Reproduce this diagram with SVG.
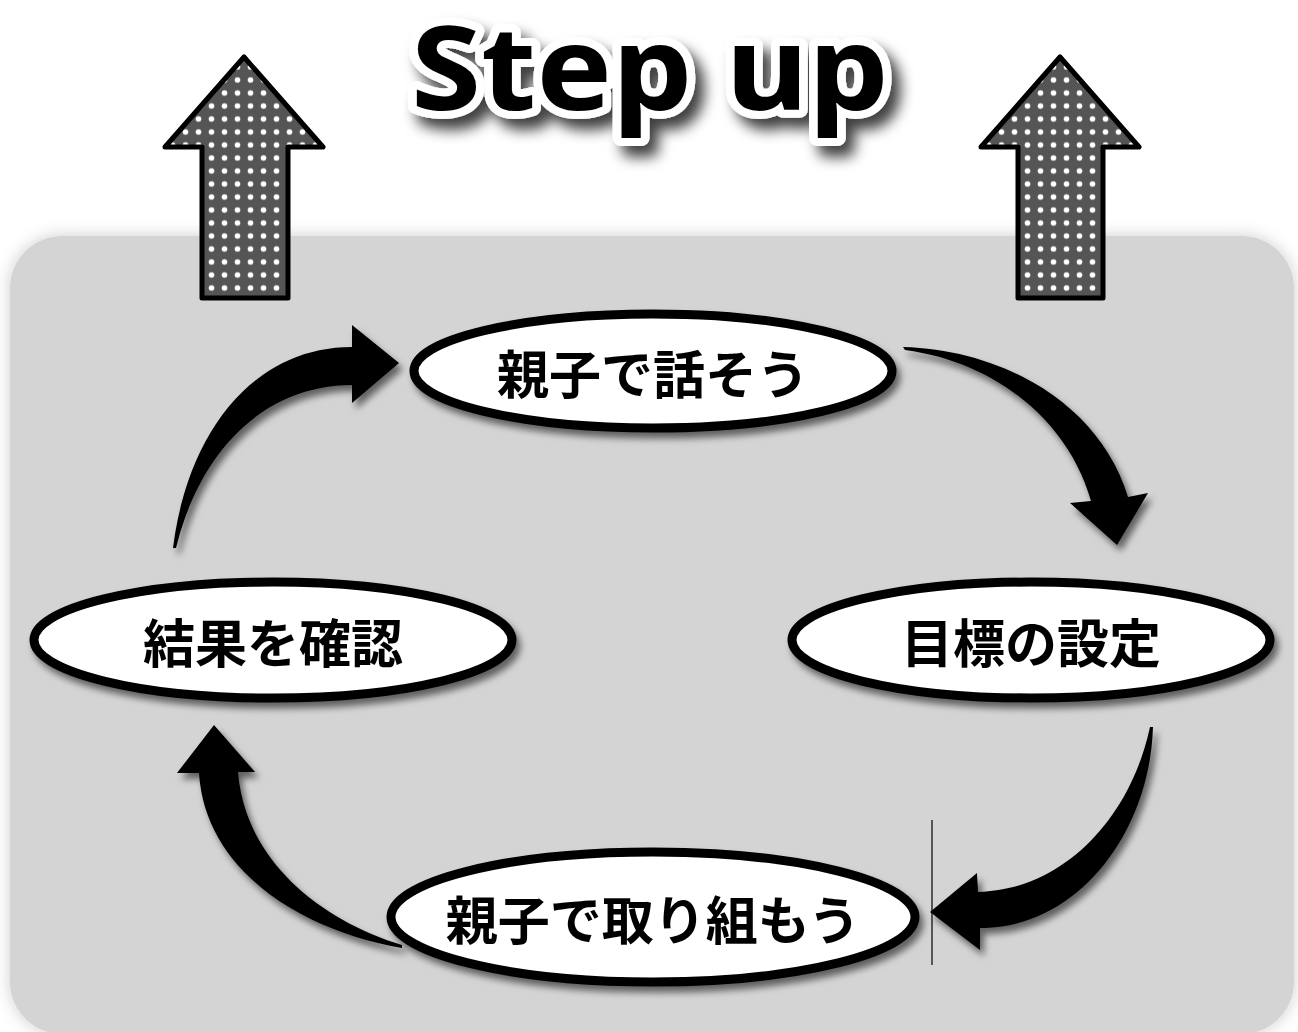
<svg xmlns="http://www.w3.org/2000/svg" width="1298" height="1032" viewBox="0 0 1298 1032">
<defs>
  <style>
    .node ellipse{fill:#fff;stroke:#000;stroke-width:9;filter:url(#sh)}
    .node text{font-family:"Noto Sans CJK JP","Noto Sans",sans-serif;font-weight:700;font-size:52px;fill:#000;text-anchor:middle;dominant-baseline:central}
    .curve{fill:#000;filter:url(#sh)}
    .up{fill:url(#dots);stroke:#000;stroke-width:5;stroke-linejoin:round}
  </style>
  <pattern id="dots" patternUnits="userSpaceOnUse" x="205" y="73.5" width="13" height="13">
    <rect width="13" height="13" fill="#555"/>
    <circle cx="6.5" cy="6.5" r="2.8" fill="#fff"/>
  </pattern>
  <pattern id="dots2" patternUnits="userSpaceOnUse" x="1021" y="73.5" width="13" height="13">
    <rect width="13" height="13" fill="#555"/>
    <circle cx="6.5" cy="6.5" r="2.8" fill="#fff"/>
  </pattern>
  <filter id="sh" x="-20%" y="-20%" width="140%" height="150%">
    <feDropShadow dx="4" dy="6" stdDeviation="3.5" flood-color="#000" flood-opacity="0.55"/>
  </filter>
  <filter id="bgsh" x="-5%" y="-5%" width="110%" height="110%">
    <feDropShadow dx="0" dy="0" stdDeviation="8" flood-color="#000" flood-opacity="0.2"/>
  </filter>
  <filter id="tsh" x="-10%" y="-30%" width="120%" height="170%">
    <feDropShadow dx="9" dy="11" stdDeviation="7" flood-color="#000" flood-opacity="0.75"/>
  </filter>
</defs>
<rect width="1298" height="1032" fill="#fff"/>
<rect id="panel" x="10" y="236" width="1284" height="798" rx="52" fill="#d4d4d4" filter="url(#bgsh)"/>

<g id="title">
  <text x="650" y="110" text-anchor="middle" textLength="478" lengthAdjust="spacingAndGlyphs" font-family="'Noto Sans','DejaVu Sans',sans-serif" font-weight="700" font-size="116" fill="#000" stroke="#fff" stroke-width="16" stroke-linejoin="round" paint-order="stroke" filter="url(#tsh)">Step up</text>
</g>

<g id="up-left">
  <path class="up" d="M244,57 L323,147 L288,147 L288,298 L202,298 L202,147 L165,147 Z"/>
</g>
<g id="up-right">
  <path class="up" style="fill:url(#dots2)" d="M1060,57 L1139,147 L1103,147 L1103,298 L1018,298 L1018,147 L981,147 Z"/>
</g>

<g id="connectors">
  <path class="curve" d="M173,548 C188,430 255,347 352,347 L352,325 L399,363 L352,403 L352,385 C265,385 200,450 176,548 Z"/>
  <path class="curve" d="M903,347 C1005,350 1100,405 1128,497 L1148,493 L1117,545 L1070,503 L1091,501 C1068,420 995,362 905,350 Z"/>
  <path class="curve" d="M1153,727 C1150,830 1080,928 980,928 L980,950 L930,912 L977,873 L978,892 C1062,890 1130,820 1150,727 Z"/>
  <path class="curve" d="M402,948 C300,930 205,870 199,773 L177,773 L214,725 L255,772 L238,772 C245,860 320,920 402,945 Z"/>
  <line x1="932" y1="820" x2="932" y2="965" stroke="#000" stroke-width="1.2"/>
</g>

<g id="node-talk" class="node">
  <ellipse cx="653" cy="371" rx="239" ry="57"/>
  <text x="653" y="371">親子で話そう</text>
</g>
<g id="node-goal" class="node">
  <ellipse cx="1031" cy="640" rx="239" ry="58"/>
  <text x="1031" y="640">目標の設定</text>
</g>
<g id="node-check" class="node">
  <ellipse cx="273" cy="640" rx="239" ry="58"/>
  <text x="273" y="640">結果を確認</text>
</g>
<g id="node-work" class="node">
  <ellipse cx="653" cy="917" rx="262" ry="65"/>
  <text x="653" y="917">親子で取り組もう</text>
</g>
</svg>
